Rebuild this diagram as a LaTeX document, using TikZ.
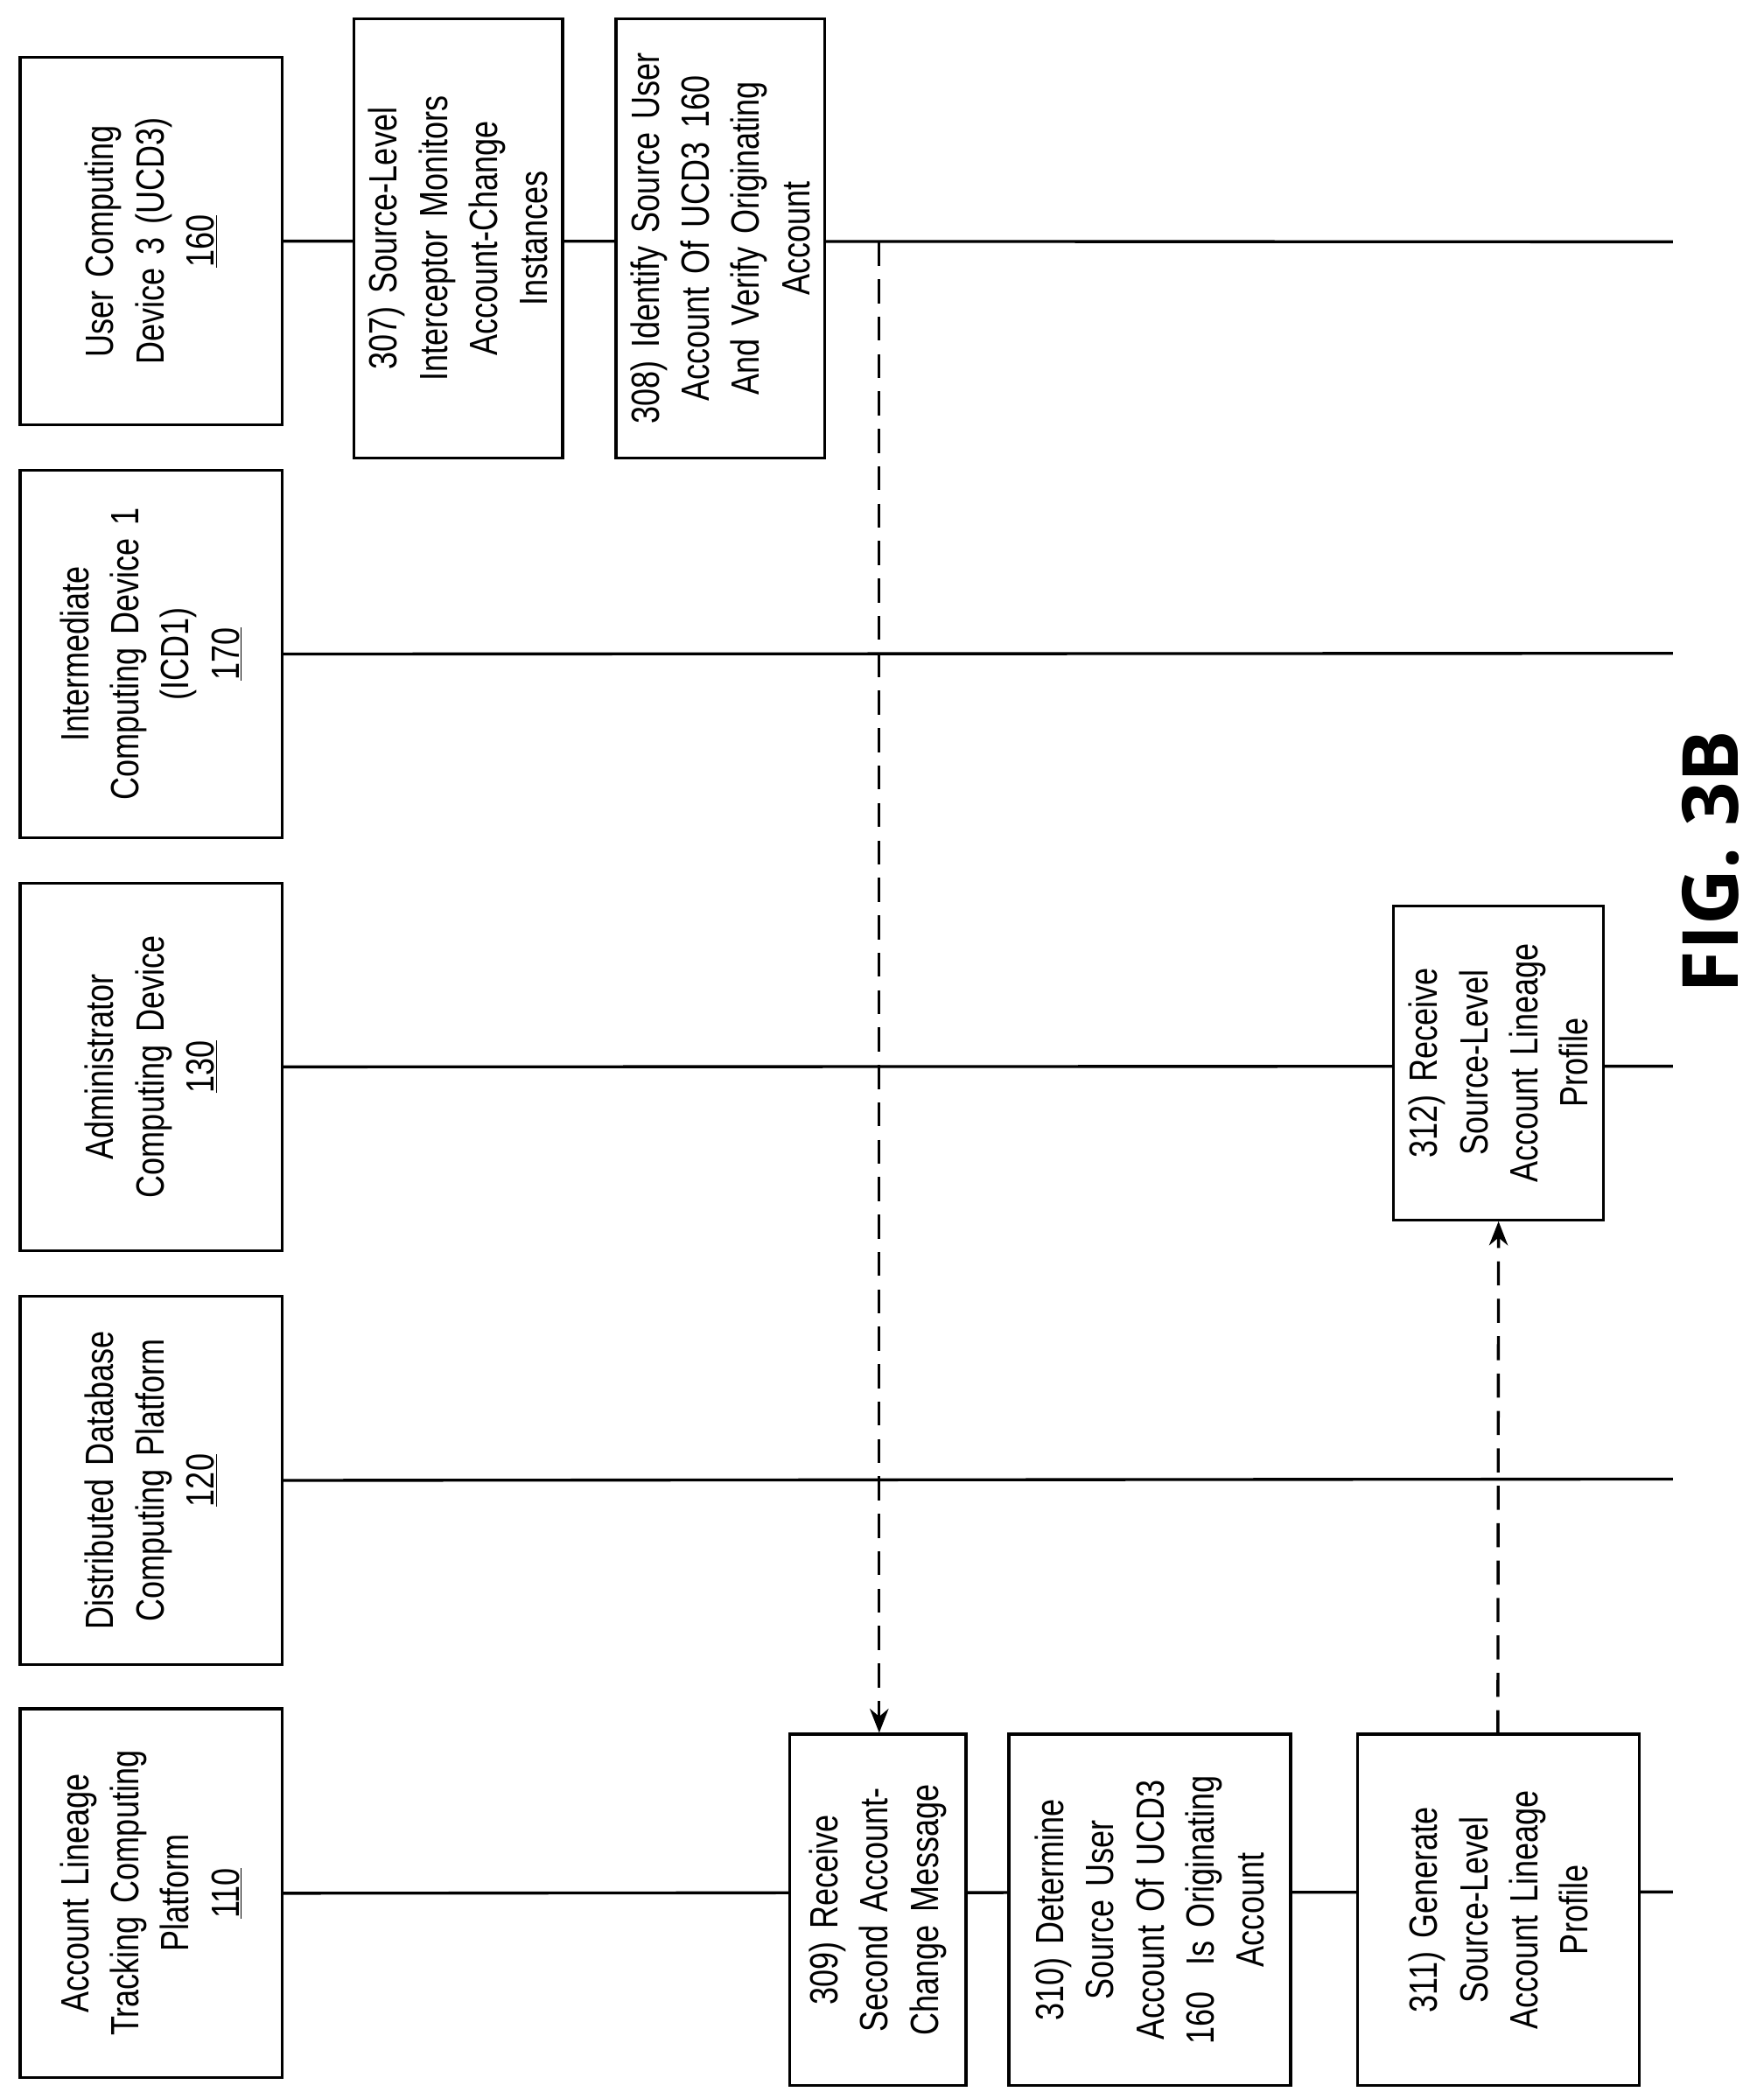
\documentclass[tikz,border=0pt]{standalone}
\usepackage{fontspec}
\setmainfont[FakeStretch=0.8]{Liberation Sans}
\newfontfamily\figfont{Open Sans}
\usetikzlibrary{arrows.meta}
\pgfdeclarelayer{bg}\pgfsetlayers{bg,main}
\begin{document}
\begin{tikzpicture}[x=1pt,y=-1pt,
  box/.style={draw,line width=2.2pt,fill=white,rotate=90,align=center,inner sep=2pt,font=\fontsize{29.5}{37.5}\selectfont},
  life/.style={line width=2.2pt},
  msg/.style={line width=2.2pt,dash pattern=on 18pt off 10pt,-{Stealth[length=18pt,width=14pt]}}]
\useasboundingbox (0,0) rectangle (1320,1571);
\node[box,minimum width=275,minimum height=196,text width=260] (h1) at (113,180.5) {User Computing\\Device 3 (UCD3)\\\underline{160}};
\node[box,minimum width=275,minimum height=196,text width=260] (h2) at (113,489.5) {Intermediate\\Computing Device 1\\(ICD1)\\\underline{170}};
\node[box,minimum width=275,minimum height=196,text width=260] (h3) at (113,798.5) {Administrator\\Computing Device\\\underline{130}};
\node[box,minimum width=276,minimum height=196,text width=260] (h4) at (113,1108) {Distributed Database\\Computing Platform\\\underline{120}};
\node[box,minimum width=276,minimum height=196,text width=266] (h5) at (113,1417) {Account Lineage\\Tracking Computing\\Platform\\\underline{110}};
\coordinate (e1) at (1252,181);
\coordinate (e2) at (1252,489);
\coordinate (e3) at (1252,798);
\coordinate (e4) at (1252,1107);
\coordinate (e5) at (1252,1416);
\node[box,minimum width=329,minimum height=156,text width=324] (s307) at (343,178.5) {307) Source-Level\\Interceptor Monitors\\Account-Change\\Instances};
\node[box,minimum width=329,minimum height=156,text width=324] (s308) at (539,178.5) {308) Identify Source User\\Account Of UCD3 160\\And Verify Originating\\Account};
\node[box,minimum width=235,minimum height=157,text width=230] (s312) at (1121.5,795.5) {312) Receive\\Source-Level\\Account Lineage\\Profile};
\node[box,minimum width=263,minimum height=132,text width=258] (s309) at (657,1429.5) {309) Receive\\Second Account-\\Change Message};
\node[box,minimum width=263,minimum height=211,text width=258] (s310) at (860.5,1429.5) {310) Determine\\Source User\\Account Of UCD3\\160\ \ Is Originating\\Account};
\node[box,minimum width=263,minimum height=211,text width=258] (s311) at (1121.5,1429.5) {311) Generate\\Source-Level\\Account Lineage\\Profile};
\begin{pgfonlayer}{bg}
\foreach \i in {1,...,5}{\draw[life] (h\i.south) -- (e\i);}
\end{pgfonlayer}
\coordinate (a1) at (658,181);
\draw[msg] (a1) -- (s309.east -| a1);
\coordinate (a2) at (1121,1298);
\draw[msg] (a2) -- (s312.west);
\node[rotate=90,font=\figfont\bfseries\fontsize{58}{60}\selectfont] (fig) at (1280,645) {FIG. 3B};
\end{tikzpicture}
\end{document}
